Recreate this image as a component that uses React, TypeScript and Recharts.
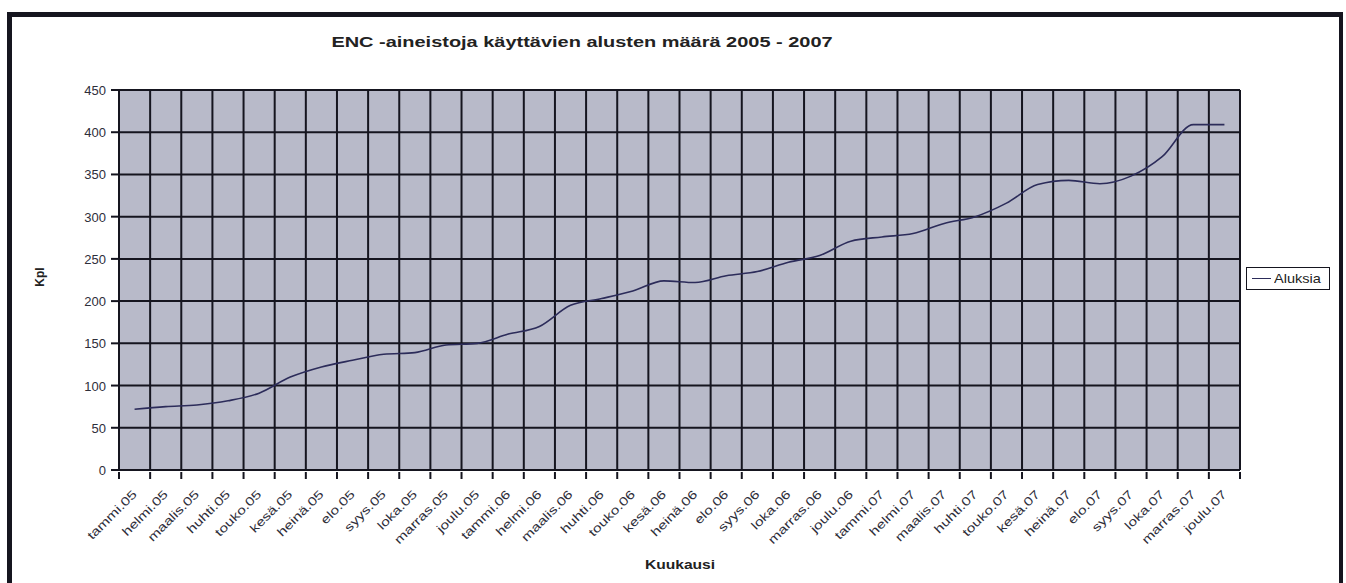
import React from 'react';
import { LineChart, Line, XAxis, YAxis, CartesianGrid } from 'recharts';

const categories = [
  'tammi.05', 'helmi.05', 'maalis.05', 'huhti.05', 'touko.05', 'kesä.05',
  'heinä.05', 'elo.05', 'syys.05', 'loka.05', 'marras.05', 'joulu.05',
  'tammi.06', 'helmi.06', 'maalis.06', 'huhti.06', 'touko.06', 'kesä.06',
  'heinä.06', 'elo.06', 'syys.06', 'loka.06', 'marras.06', 'joulu.06',
  'tammi.07', 'helmi.07', 'maalis.07', 'huhti.07', 'touko.07', 'kesä.07',
  'heinä.07', 'elo.07', 'syys.07', 'loka.07', 'marras.07', 'joulu.07',
];

const aluksia = [
  72, 75, 77, 82, 91, 110, 122, 130, 137, 139, 148, 150,
  161, 170, 195, 203, 212, 224, 222, 230, 235, 246, 254, 271,
  276, 280, 292, 300, 316, 338, 343, 339, 348, 371, 409, 409,
];

const yTicks = [0, 50, 100, 150, 200, 250, 300, 350, 400, 450];

const title = 'ENC -aineistoja käyttävien alusten määrä 2005 - 2007';
const seriesName = 'Aluksia';

const data = categories.map((month, i) => ({ month, value: aluksia[i] }));

const W = 1346;
const H = 583;
const MARGIN = { top: 90, right: 106, left: 0, bottom: 0 };
const Y_AXIS_W = 119;
const X_AXIS_H = 113;
const PLOT_W = W - MARGIN.right - Y_AXIS_W;
const BAND = PLOT_W / categories.length;
const FONT = '"Liberation Sans", Arial, sans-serif';
const INK = '#15151f';

// scanned original is stretched sideways, so texts get a small scaleX
function MonthTick(props: any) {
  const { x, y, payload, index } = props;
  const left = x - BAND / 2;
  return (
    <g>
      <line x1={left} y1={y} x2={left} y2={y + 7} stroke={INK} strokeWidth={2} />
      {index === categories.length - 1 && (
        <line x1={x + BAND / 2} y1={y} x2={x + BAND / 2} y2={y + 7} stroke={INK} strokeWidth={2} />
      )}
      <text
        transform={`translate(${x + 3},${y + 23}) rotate(-45) scale(1.3,1)`}
        textAnchor="end"
        fontSize={12}
        fontFamily={FONT}
        fill="#2e2e3a"
      >
        {payload.value}
      </text>
    </g>
  );
}

function ValueTick(props: any) {
  const { x, y, payload } = props;
  return (
    <text x={x} y={y} dy={5} textAnchor="end" fontSize={13} fontFamily={FONT} fill="#2e2e3a">
      {payload.value}
    </text>
  );
}

export default function App() {
  return (
    <div style={{ position: 'absolute', left: 0, top: 0, width: W, height: H, overflow: 'hidden', background: '#fff' }}>
      <div
        style={{
          position: 'absolute',
          left: 7,
          top: 12,
          width: 1327,
          height: 568,
          borderTop: `5px solid ${INK}`,
          borderLeft: `5px solid ${INK}`,
          borderRight: `4px solid ${INK}`,
          borderBottom: '1px solid #aaa',
        }}
      />
      <div
        style={{
          position: 'absolute',
          left: 282,
          top: 33,
          width: 600,
          textAlign: 'center',
          fontFamily: FONT,
          fontWeight: 'bold',
          fontSize: 15,
          color: '#222',
          transform: 'scaleX(1.33)',
        }}
      >
        {title}
      </div>
      <div
        style={{
          position: 'absolute',
          left: 20,
          top: 270,
          width: 40,
          textAlign: 'center',
          fontFamily: FONT,
          fontWeight: 'bold',
          fontSize: 12,
          color: '#222',
          transform: 'rotate(-90deg)',
        }}
      >
        Kpl
      </div>
      <div
        style={{
          position: 'absolute',
          left: 580,
          top: 558,
          width: 200,
          textAlign: 'center',
          fontFamily: FONT,
          fontWeight: 'bold',
          fontSize: 12,
          color: '#222',
          transform: 'scaleX(1.3)',
        }}
      >
        Kuukausi
      </div>
      <div
        style={{
          position: 'absolute',
          left: 1246,
          top: 267,
          width: 82,
          height: 21,
          border: `1.5px solid ${INK}`,
          display: 'flex',
          alignItems: 'center',
          fontFamily: FONT,
          fontSize: 13,
          color: '#222',
          background: '#fff',
        }}
      >
        <span style={{ display: 'inline-block', width: 19, height: 0, borderTop: '1.5px solid #2c2c5a', marginLeft: 5, marginRight: 3 }} />
        <span style={{ display: 'inline-block', transform: 'scaleX(1.12)', transformOrigin: 'left center' }}>{seriesName}</span>
      </div>
      <div style={{ position: 'absolute', left: 0, top: 0 }}>
        <LineChart width={W} height={H} data={data} margin={MARGIN}>
          <CartesianGrid
            fill="#b8bac9"
            fillOpacity={1}
            stroke={INK}
            strokeWidth={2}
            strokeOpacity={1}
            verticalCoordinatesGenerator={({ offset }: any) =>
              categories.map((_, i) => offset.left + (offset.width * i) / categories.length)
                .concat(offset.left + offset.width)
            }
          />
          <XAxis
            dataKey="month"
            interval={0}
            height={X_AXIS_H}
            padding={{ left: BAND / 2, right: BAND / 2 }}
            tickSize={0}
            tickLine={false}
            axisLine={{ stroke: INK, strokeWidth: 2 }}
            tick={<MonthTick />}
          />
          <YAxis
            width={Y_AXIS_W}
            domain={[0, 450]}
            ticks={yTicks}
            interval={0}
            tickSize={8}
            tickMargin={5}
            tickLine={{ stroke: INK, strokeWidth: 2 }}
            axisLine={{ stroke: INK, strokeWidth: 2 }}
            tick={<ValueTick />}
          />
          <Line
            type="monotone"
            dataKey="value"
            name={seriesName}
            stroke="#2c2c5a"
            strokeWidth={1.6}
            dot={false}
            isAnimationActive={false}
          />
        </LineChart>
      </div>
    </div>
  );
}
